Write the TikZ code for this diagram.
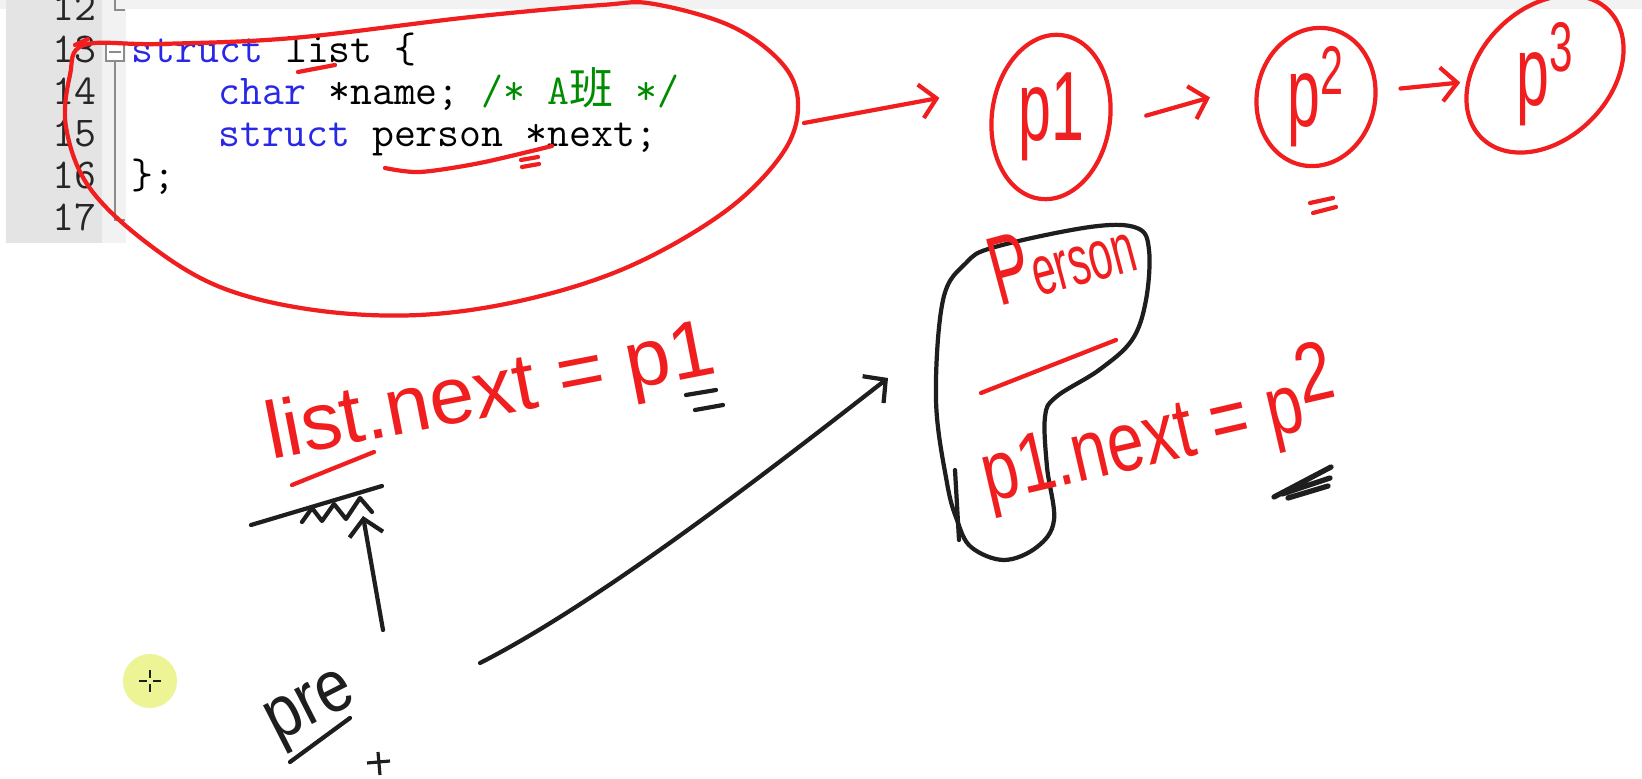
\documentclass[tikz,border=0pt]{standalone}
\usepackage{fontspec}
\usetikzlibrary{arrows.meta,shapes.geometric}
\newfontfamily\handfont{Liberation Sans}
\newfontfamily\cjkfont{Noto Sans CJK SC}
\definecolor{pen}{RGB}{240,30,30}
\definecolor{ink}{RGB}{30,30,30}
\definecolor{kwblue}{RGB}{40,40,230}
\definecolor{cmtgreen}{RGB}{0,140,0}
\definecolor{gutterdark}{RGB}{228,228,228}
\definecolor{gutterlight}{RGB}{242,242,242}
\definecolor{cursoryel}{RGB}{236,244,150}

\begin{document}
\begin{tikzpicture}[x=0.01cm,y=-0.01cm,
  redpen/.style={draw=pen,line width=1.2pt,line cap=round,line join=round},
  blackpen/.style={draw=ink,line width=1.2pt,line cap=round,line join=round},
  redarrow/.style={redpen,-{Straight Barb[length=1.6mm,width=3.4mm]}},
  blackarrow/.style={blackpen,-{Straight Barb[length=1.6mm,width=3.4mm]}},
  ring/.style={ellipse,redpen,inner sep=0pt},
  plabel/.style={text=pen,font=\handfont\fontsize{28}{28}\selectfont,xscale=0.6,inner sep=0pt},
  hand/.style={text=pen,inner sep=0pt,anchor=base},
  codeline/.style={anchor=base west,inner sep=0pt,font=\ttfamily\fontsize{12.1}{14}\selectfont},
  lineno/.style={anchor=base east,inner sep=0pt,font=\ttfamily\fontsize{12.1}{14}\selectfont,text=black!85},
  fold/.style={draw=black!45,line width=0.5pt}]

  \useasboundingbox (0,0) rectangle (1642,779);
  \fill[white] (0,0) rectangle (1642,779);
  \fill[black!5] (0,0) rectangle (1642,9);
  \fill[gutterdark] (6,0) rectangle (102,243);
  \fill[gutterlight] (102,0) rectangle (126,243);

  % editor
  \foreach \n [count=\i from 0] in {12,...,17}
    \node[lineno] (ln\n) at (97,21+42*\i) {\n};
  \draw[fold] (115,0) -- (115,10) -- (125,10);
  \draw[fold,fill=white] (106,43) rectangle (124,61);
  \draw[fold] (109,52) -- (121,52);
  \draw[fold] (115,61) -- (115,220) -- (125,220);
  \node[codeline] (c13) at (131,63) {\textcolor{kwblue}{struct} list \{};
  \node[codeline] (c14) at (218,105) {\textcolor{kwblue}{char} *name; \textcolor{cmtgreen}{/* A{\cjkfont\fontsize{12.5}{12}\selectfont 班} */}};
  \node[codeline] (c15) at (218,147) {\textcolor{kwblue}{struct} person *next;};
  \node[codeline] (c16) at (131,189) {\};};

  % red loop round the struct
  \draw[redpen] plot[smooth cycle,tension=0.6] coordinates {(84,45) (70,75) (66,127) (89,187) (147,243)
    (220,287) (314,310) (419,315) (524,300) (628,267) (723,213) (780,157) (798,110) (785,67)
    (733,27) (654,4) (602,5) (471,17) (293,38) (160,44)};
  \draw[redpen] (88,39) -- (75,45);
  \draw[redpen] (298,72) -- (335,65);
  \draw[redpen] plot[smooth] coordinates {(385,168) (420,172) (480,163) (552,146)};
  \draw[redpen] (521,160) -- (538,157) (522,167) -- (539,164);
  \coordinate (loopR) at (804,123);

  % p1 -> p2 -> p3
  \node[ring,minimum width=1.18cm,minimum height=1.65cm,rotate=-8,label={[plabel]center:p1}] (p1) at (1051,117) {};
  \node[ring,minimum width=1.18cm,minimum height=1.39cm,rotate=-12,label={[plabel]center:p\textsuperscript{2}}] (p2) at (1316,97) {};
  \node[ring,minimum width=1.80cm,minimum height=1.30cm,rotate=45,label={[plabel]center:p\raisebox{0.35em}{\fontsize{20}{20}\selectfont 3}}] (p3) at (1545,74) {};
  \path
   (loopR) edge[redarrow,shorten >=5.7mm] (p1.160)
   (p1.east) edge[redarrow,shorten <=3.6mm,shorten >=4.8mm] (p2.west)
   (p2) edge[redarrow,shorten <=2.3mm,shorten >=0.6mm] (p3);
  \draw[redpen] (1310,203) -- (1333,198) (1313,213) -- (1336,207);

  % list.next = p1
  \node[hand,font=\handfont\fontsize{23}{23}\selectfont,rotate=11] (lnext) at (495,416) {list.next = p1};
  \draw[redpen] (292,485) -- (374,452);
  \draw[blackpen] (686,395) -- (716,390) (695,410) -- (723,405);
  \draw[blackpen] (251,525) -- (382,486);
  \draw[blackpen] (302,522) -- (312,508) -- (322,521) -- (334,504) -- (346,519) -- (360,498) -- (372,512);
  \coordinate (upS) at (383,630);
  \coordinate (upE) at (363,516);
  \draw[blackarrow] (upS) -- (upE);

  % pre
  \node[hand,text=ink,font=\handfont\fontsize{21}{21}\selectfont,rotate=27,xscale=0.85] (pre) at (318,722) {pre};
  \draw[blackpen] (290,762) -- (350,718);
  \draw[ink,line width=0.9pt] (367,763) -- (390,761) (378,752) -- (380,775);
  \coordinate (preR) at (480,663);
  \coordinate (prsL) at (888,378);
  \draw[blackarrow] (preR) .. controls (600,602) and (770,470) .. (prsL);

  % Person box
  \draw[blackpen] plot[smooth cycle,tension=0.6] coordinates {(1004,560) (971,547) (957,520) (947,483)
    (936,400) (943,300) (966,263) (995,247) (1090,227) (1137,228) (1149,250) (1146,300) (1132,340)
    (1099,370) (1056,397) (1045,417) (1047,467) (1054,520) (1037,547)};
  \draw[blackpen] (955,470) -- (959,540);
  \node[hand,font=\handfont\fontsize{20}{20}\selectfont,rotate=15,xscale=0.6] (prsn) at (1070,288) {{\fontsize{28}{28}\selectfont P}erson};
  \draw[redpen] (981,393) -- (1116,340);
  \node[hand,font=\handfont\fontsize{24}{24}\selectfont,rotate=13,xscale=0.78] (p1next) at (1166,462) {p1.next = p\raisebox{0.3em}{2}};
  \draw[blackpen,line width=1.5pt] (1274,497) -- (1331,467) (1282,494) -- (1330,478) (1288,498) -- (1328,486);

  % cursor
  \fill[cursoryel] (150,681) circle (0.27cm);
  \draw[ink,line width=0.5pt] (139,681) -- (147,681) (153,681) -- (161,681) (150,670) -- (150,678) (150,684) -- (150,692);
\end{tikzpicture}
\end{document}
